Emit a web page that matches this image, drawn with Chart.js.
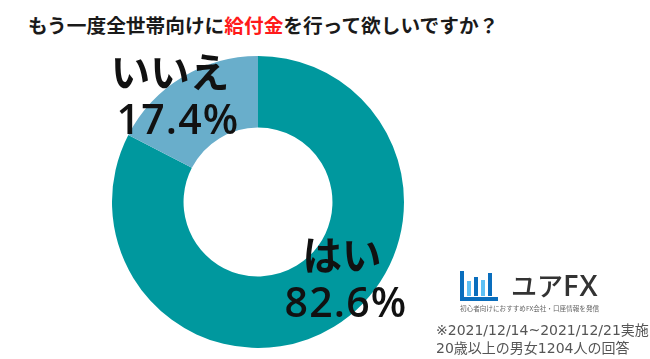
<!DOCTYPE html>
<html lang="ja"><head><meta charset="utf-8">
<script src="https://cdn.jsdelivr.net/npm/chart.js@4"></script>
<style>
html,body{margin:0;padding:0;background:#fff;width:650px;height:359px;overflow:hidden;font-family:"DejaVu Sans","Noto Sans CJK JP",sans-serif}
.t{position:absolute;white-space:nowrap;line-height:1;color:#000}
#wrap{position:absolute;left:112px;top:56px;width:292px;height:292px}
.kana{font-family:"Noto Sans CJK JP";font-weight:700;font-size:39.5px;transform:translateX(-50%);color:#111}
.pct{font-family:"Open Sans";font-weight:600;font-size:41px;letter-spacing:1.2px;transform:translateX(-50%);color:#111}
.b{position:absolute}
</style></head><body>
<div id="wrap"><canvas id="c" width="292" height="292"></canvas></div>
<div class="t" style="left:28px;top:15px;font-family:'Noto Sans CJK JP';font-size:19.7px;font-weight:700;color:#1a1a1a" id="title"></div>
<div class="t kana" id="l0a" style="left:342px;top:233px"></div>
<div class="t pct" id="l0b" style="left:346px;top:281px"></div>
<div class="t kana" id="l1a" style="left:170px;top:50px"></div>
<div class="t pct" id="l1b" style="left:178px;top:98px"></div>
<!-- logo -->
<div class="b" style="left:460px;top:271px;width:4px;height:30px;background:#0a6ebd"></div>
<div class="b" style="left:460px;top:297px;width:38px;height:4px;background:#0a6ebd"></div>
<div class="b" style="left:467px;top:281px;width:4px;height:15px;background:#5cc0f5"></div>
<div class="b" style="left:474px;top:277px;width:4px;height:19px;background:#0a6ebd"></div>
<div class="b" style="left:481px;top:280px;width:4px;height:16px;background:#5cc0f5"></div>
<div class="b" style="left:488px;top:273px;width:4px;height:23px;background:#0a6ebd"></div>
<div class="t" style="left:511px;top:272px;font-family:'Noto Sans CJK JP';font-size:26px;font-weight:500;color:#333"><span>ユア</span><span style="font-family:'Open Sans';font-weight:600;font-size:29px;letter-spacing:1px;line-height:26px">FX</span></div>
<div class="t" style="left:460px;top:305px;font-family:'Noto Sans CJK JP';font-size:6.6px;color:#666">初心者向けにおすすめFX会社・口座情報を発信</div>
<div class="t" style="left:436px;top:323px;font-size:14px;color:#555">※2021/12/14~2021/12/21実施</div>
<div class="t" style="left:436px;top:341px;font-size:14px;color:#555">20歳以上の男女1204人の回答</div>
<script>
const categories = ["はい", "いいえ"];
const values = [82.6, 17.4];
const colors = ["#00989e", "#69aecb"];
const titleParts = ["もう一度全世帯向けに", "給付金", "を行って欲しいですか？"];

document.getElementById('title').innerHTML =
  titleParts[0] + '<span style="color:#ff1a1a">' + titleParts[1] + '</span>' + titleParts[2];
document.getElementById('l0a').textContent = categories[0];
document.getElementById('l0b').textContent = values[0].toFixed(1) + '%';
document.getElementById('l1a').textContent = categories[1];
document.getElementById('l1b').textContent = values[1].toFixed(1) + '%';

new Chart(document.getElementById('c'), {
  type: 'doughnut',
  data: { labels: categories, datasets: [{ data: values, backgroundColor: colors, borderWidth: 0 }] },
  options: {
    responsive: false, animation: false, cutout: '51%',
    layout: { padding: 0 },
    plugins: { legend: { display: false }, tooltip: { enabled: false } }
  }
});
</script>
</body></html>
